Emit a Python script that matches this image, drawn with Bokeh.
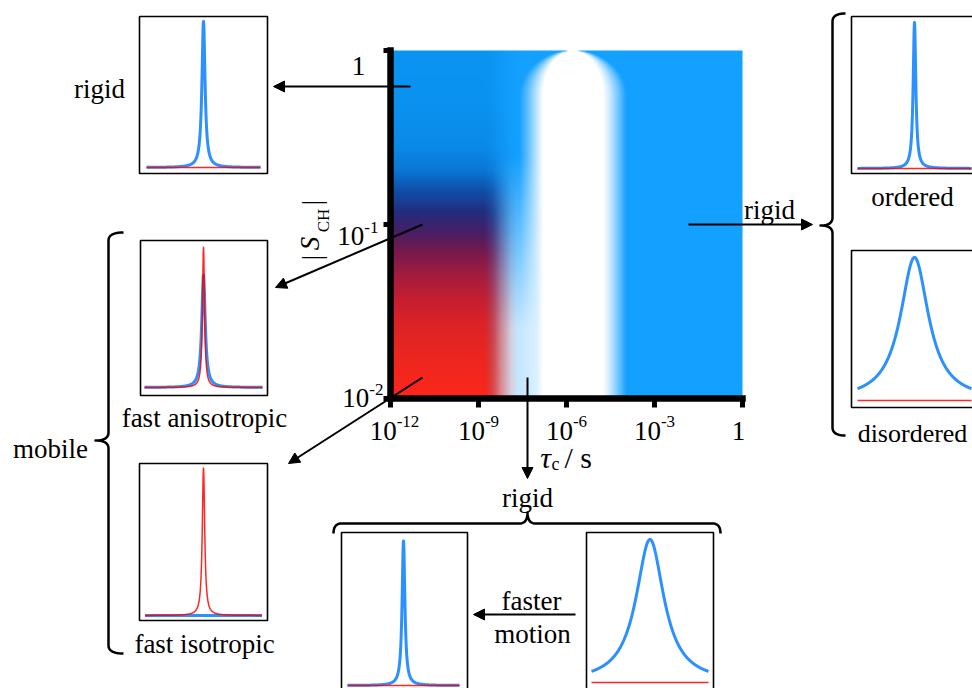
import numpy as np
from bokeh.plotting import figure
from bokeh.models import Range1d, Arrow, NormalHead, ColumnDataSource
from bokeh.core.properties import value
from bokeh.embed import file_html
from bokeh.resources import INLINE

FONT = "Liberation Serif"
BLUE = "#1584ff"
RED = "#ff0000"

# ---------------- data ----------------
# central map axes: log10(tau_c / s) and log10|S_CH|
x_tick_exp = [-12, -9, -6, -3, 0]
x_tick_sup = ["-12", "-9", "-6", "-3", ""]
y_tick_exp = [-2, -1, 0]
y_tick_sup = ["-2", "-1", ""]

# colour of the mobile (short tau_c) side of the map vs log10|S_CH|
left_lS = [-2.0, -1.95, -1.76, -1.57, -1.42, -1.28, -1.16, -1.05, -0.93, -0.80, -0.69, -0.55, -0.30, 0.0]
left_r = [252, 250, 235, 220, 195, 160, 120, 75, 35, 15, 10, 10, 10, 10]
left_g = [38, 38, 38, 35, 30, 28, 25, 30, 45, 80, 118, 138, 146, 148]
left_b = [26, 28, 32, 40, 50, 65, 75, 100, 125, 170, 212, 232, 240, 242]
rigid_rgb = [20, 160, 255]

# weight of the mobile colour vs log10 tau_c
mob_lt = [-12, -8.8, -8.5, -8.2, -7.9, -7.65, 0]
mob_w = [1, 1, 0.8, 0.45, 0.15, 0, 0]

# weight of the white (no signal) band vs log10 tau_c, at |S_CH| = 1 and 0.01
wt_lt = [-12, -7.6, -7.3, -7.0, -6.8, -4.75, -4.5, -4.2, -3.95, 0]
wt_top = [0, 0, 0.35, 0.75, 1, 1, 0.75, 0.35, 0, 0]
wb_lt = [-12, -8.8, -8.3, -7.9, -7.6, -7.0, -6.8, -4.75, -4.5, -4.2, -3.95, 0]
wb_bot = [0, 0, 0.7, 0.8, 0.75, 0.85, 1, 1, 0.75, 0.35, 0, 0]
band_centre_lt = -5.78

# inset spectra: normalised frequency -1..1, intensity 1 = narrow rigid peak
panel_names = ["rigid", "fast anisotropic", "fast isotropic", "ordered",
               "disordered", "rigid fast", "rigid slow"]
blue_amp = [1.0, 0.77, 0.0, 1.0, 0.98, 0.99, 0.98]
blue_hw = [0.033, 0.036, 0.03, 0.028, 0.30, 0.03, 0.29]
red_amp = [0.0, 0.96, 1.01, 0.0, 0.0, 0.0, 0.0]
red_hw = [0.03, 0.021, 0.025, 0.03, 0.03, 0.03, 0.03]

# ---------------- layout (page pixel coordinates) ----------------
CX0, CX1, CY0, CY1 = 0, 972, 0, 688
MAP_L, MAP_R, MAP_B, MAP_T = 390, 742, 398, 50
LT_MIN, LT_MAX, LS_MIN, LS_MAX = -12, 0, -2, 0
BAND_ROUND_Y, BAND_ROUND_R = 95.0, 45.0

panel_box = [(139, 267, 16, 173), (140, 267, 240, 395), (139, 267, 463, 620),
             (851, 977, 16, 173), (851, 977, 250, 407), (341, 467, 532, 689),
             (586, 713, 532, 689)]
panel_cx = [203, 203, 203, 914, 914, 403, 649.5]
panel_hs = [57, 59, 58.5, 57, 57, 56, 58.5]
panel_base = [167, 387, 615, 168, 400, 685, 682]
PANEL_UNIT = 146


def lt_of(px):
    return LT_MIN + (px - MAP_L) * (LT_MAX - LT_MIN) / (MAP_R - MAP_L)


def ls_of(py):
    return LS_MIN + (MAP_B - py) * (LS_MAX - LS_MIN) / (MAP_B - MAP_T)


p = figure(width=CX1 - CX0, height=CY1 - CY0,
           x_range=Range1d(CX0, CX1), y_range=Range1d(CY1, CY0),
           output_backend="svg", toolbar_location=None, min_border=0,
           x_axis_location=None, y_axis_location=None)
p.grid.visible = False
p.outline_line_color = None
p.background_fill_color = "white"
p.border_fill_color = "white"

xr = {"lt": Range1d(lt_of(CX0), lt_of(CX1))}
yr = {"lS": Range1d(ls_of(CY1), ls_of(CY0))}
for i in range(len(panel_names)):
    xr[f"ix{i}"] = Range1d((CX0 - panel_cx[i]) / panel_hs[i], (CX1 - panel_cx[i]) / panel_hs[i])
    yr[f"iy{i}"] = Range1d((panel_base[i] - CY1) / PANEL_UNIT, (panel_base[i] - CY0) / PANEL_UNIT)
p.extra_x_ranges = xr
p.extra_y_ranges = yr

# ---------------- central map ----------------
nx, ny = MAP_R - MAP_L, MAP_B - MAP_T
lt = LT_MIN + (np.arange(nx) + 0.5) * (LT_MAX - LT_MIN) / nx
lS = LS_MIN + (np.arange(ny) + 0.5) * (LS_MAX - LS_MIN) / ny
LT, LS = np.meshgrid(lt, lS)
pyy = MAP_B - (LS - LS_MIN) * ny / (LS_MAX - LS_MIN)
# rounded top of the white band: the band narrows towards |S_CH| = 1
v = np.clip((BAND_ROUND_Y - pyy) / BAND_ROUND_R, 0, 1)
ratio = np.sqrt(np.clip(1 - v * v, 1e-4, 1))
LTb = band_centre_lt + (LT - band_centre_lt) / ratio
s = np.clip((LS + 1.6) / 1.0, 0, 1)
wb = (1 - s) * np.interp(LTb, wb_lt, wb_bot) + s * np.interp(LTb, wt_lt, wt_top)
mw = np.interp(lt, mob_lt, mob_w)[None, :, None]
L = np.stack([np.interp(lS, left_lS, left_r), np.interp(lS, left_lS, left_g),
              np.interp(lS, left_lS, left_b)], axis=-1)[:, None, :]
M = (1 - wb[..., None]) * np.array(rigid_rgb)[None, None, :] + wb[..., None] * 255.0
C = mw * L + (1 - mw) * M
img = np.zeros((ny, nx), dtype=np.uint32)
view = img.view(dtype=np.uint8).reshape((ny, nx, 4))
view[..., 0] = np.clip(C[..., 0], 0, 255).astype(np.uint8)
view[..., 1] = np.clip(C[..., 1], 0, 255).astype(np.uint8)
view[..., 2] = np.clip(C[..., 2], 0, 255).astype(np.uint8)
view[..., 3] = 255
p.image_rgba(image=[img], x=LT_MIN, y=LS_MIN, dw=LT_MAX - LT_MIN, dh=LS_MAX - LS_MIN,
             x_range_name="lt", y_range_name="lS")

# axis lines and ticks of the map
p.segment(x0=[LT_MIN, LT_MIN], y0=[LS_MIN, LS_MIN], x1=[LT_MAX, LT_MIN], y1=[LS_MIN, LS_MAX],
          x_range_name="lt", y_range_name="lS", line_width=6.5, line_color="black",
          line_cap="square")
p.segment(x0=x_tick_exp, y0=[MAP_B] * len(x_tick_exp), x1=x_tick_exp,
          y1=[MAP_B + 9] * len(x_tick_exp), x_range_name="lt", line_width=5,
          line_color="black")
p.segment(x0=[MAP_L - 7] * len(y_tick_exp), y0=y_tick_exp, x1=[MAP_L] * len(y_tick_exp),
          y1=y_tick_exp, y_range_name="lS", line_width=5, line_color="black")

BASE, SUP = 27, 17


def adv(t, size):
    return sum(0.333 if ch == "-" else 0.5 for ch in t) * size


def txt(x, y, t, size=BASE, align="center", baseline="alphabetic", style="normal",
        **kw):
    p.text(x=[x], y=[y], text=[t], text_font=value(FONT), text_font_size=f"{size}px",
           text_align=align, text_baseline=baseline, text_font_style=style,
           text_color="black", **kw)


# x tick labels
for e, sup in zip(x_tick_exp, x_tick_sup):
    if sup == "":
        txt(e, 430, "1", align="center", x_offset=-4, x_range_name="lt")
        continue
    wtot = BASE + adv(sup, SUP)
    shift = 4 if e == -12 else 0
    off = -wtot / 2 + BASE + shift
    txt(e, 430, "10", align="right", x_offset=off, x_range_name="lt")
    txt(e, 421, sup, size=SUP, align="left", x_offset=off, x_range_name="lt")

# y tick labels
ylab_right = {-2: 383, -1: 378}
ylab_base = {-2: 397, -1: 235}
for e, sup in zip(y_tick_exp, y_tick_sup):
    if sup == "":
        txt(358, 65, "1", align="center")
        continue
    xr_ = ylab_right[e]
    txt(xr_, ylab_base[e] - 8, sup, size=SUP, align="right")
    txt(xr_ - adv(sup, SUP), ylab_base[e], "10", align="right")

# axis titles
txt(545, 457, "τ", size=30, style="italic")
txt(551, 463, "c", size=18, align="left")
txt(564, 457, "/ s", size=30, align="left")
rot = np.pi / 2
txt(311, 202, "|", align="center", baseline="middle", angle=rot)
txt(323, 220, "CH", size=SUP, align="center", baseline="middle", angle=rot)
txt(309, 243, "S", align="center", baseline="middle", style="italic", angle=rot)
txt(311, 257, "|", align="center", baseline="middle", angle=rot)

# ---------------- inset spectra ----------------
freq = np.linspace(-1, 1, 1601)
for i in range(len(panel_names)):
    l, r, t, b = panel_box[i]
    p.quad(left=[l], right=[r], top=[t], bottom=[b], fill_color=None,
           line_color="black", line_width=1.6)
    blue = blue_amp[i] * blue_hw[i] ** 2 / (freq ** 2 + blue_hw[i] ** 2)
    red = red_amp[i] * red_hw[i] ** 2 / (freq ** 2 + red_hw[i] ** 2)
    p.line(freq, blue, x_range_name=f"ix{i}", y_range_name=f"iy{i}", line_color=BLUE,
           line_width=3, line_alpha=0.9, line_join="round")
    p.line(freq, red, x_range_name=f"ix{i}", y_range_name=f"iy{i}", line_color=RED,
           line_width=1.5, line_alpha=0.85, line_join="round")

# ---------------- labels ----------------
txt(99, 88, "rigid")
txt(50, 448, "mobile")
txt(204, 417, "fast anisotropic")
txt(204, 643, "fast isotropic")
txt(769, 209, "rigid")
txt(912, 196, "ordered")
txt(912, 433, "disordered", size=26)
txt(527, 497, "rigid")
txt(531, 600, "faster")
txt(532, 633, "motion")

# ---------------- arrows ----------------
arr = ColumnDataSource(dict(x0=[410, 422, 422, 688, 527, 575],
                            y0=[86, 224, 377, 224, 377, 614],
                            x1=[273, 275, 288, 812, 527, 473],
                            y1=[86, 287, 463, 224, 478, 614]))
p.add_layout(Arrow(end=NormalHead(size=11, fill_color="black", line_color="black",
                                  line_width=1),
                   x_start="x0", y_start="y0", x_end="x1", y_end="y1", source=arr,
                   line_width=2, line_color="black"))


# ---------------- braces ----------------
def quad_bez(p0, c, p1, n=12):
    tt = np.linspace(0, 1, n)[:, None]
    return (1 - tt) ** 2 * np.array(p0) + 2 * (1 - tt) * tt * np.array(c) + tt ** 2 * np.array(p1)


def brace_path(line, start, end, mid, tip, hook, rad=8):
    pts = np.vstack([quad_bez((hook, start), (line, start), (line, start + rad)),
                     quad_bez((line, mid - rad), (line, mid), (tip, mid)),
                     quad_bez((tip, mid), (line, mid), (line, mid + rad)),
                     quad_bez((line, end - rad), (line, end), (hook, end))])
    return pts[:, 0], pts[:, 1]


for (line, start, end, mid, tip, hook, vertical) in [
        (108, 232, 653, 440, 95, 123, True),
        (832, 13, 435, 225, 820, 845, True),
        (523, 333, 720, 527, 512, 533, False)]:
    a, s_ = brace_path(line, start, end, mid, tip, hook)
    if vertical:
        p.line(a, s_, line_color="black", line_width=2.5, line_join="round")
    else:
        p.line(s_, a, line_color="black", line_width=2.5, line_join="round")

open("out.html", "w").write(file_html(p, INLINE))
